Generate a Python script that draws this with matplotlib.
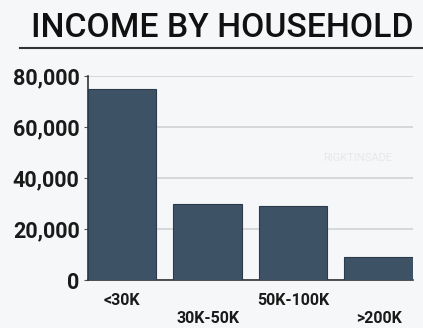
import matplotlib.pyplot as plt
from matplotlib.lines import Line2D

categories = ["<30K", "30K-50K", "50K-100K", ">200K"]
households = [74800, 29800, 29000, 9000]
yticks = [0, 20000, 40000, 60000, 80000]

bar_color = "#3e5266"
bg = "#f5f7f8"
font = ["Roboto", "DejaVu Sans"]

fig = plt.figure(figsize=(4.23, 3.28), dpi=100)
fig.patch.set_facecolor(bg)

fig.text(0.525, 0.915, "INCOME BY HOUSEHOLD", ha="center", va="center",
         fontsize=24.3, family=font, weight="medium", color="#111111")
fig.add_artist(Line2D([0.047, 1.0], [0.854, 0.854], color="#333333", lw=1.5))

ax = fig.add_axes([0.208, 0.146, 0.768, 0.622])
ax.set_facecolor(bg)
x = range(len(categories))
ax.bar(x, households, width=0.8, color=bar_color, edgecolor="#2c3b49", lw=0.8, zorder=3)

ax.set_xlim(-0.4, 3.4)
ax.set_ylim(0, 80000)
ax.set_yticks(yticks)
ax.set_yticklabels([f"{v:,}" for v in yticks], family=font, fontsize=15.5,
                   weight="bold", color="#1a1a1a")
ax.grid(axis="y", color="#cfd3d6", lw=1.2, zorder=0)
ax.tick_params(axis="y", length=3, color="#555555", pad=3)
ax.tick_params(axis="x", length=0)
ax.set_xticks([])
for s in ["top", "right"]:
    ax.spines[s].set_visible(False)
ax.spines["left"].set_color("#333333")
ax.spines["bottom"].set_color("#333333")
ax.spines["left"].set_linewidth(1.2)
ax.spines["bottom"].set_linewidth(1.2)

for i, c in enumerate(categories):
    y = -0.065 if i % 2 == 0 else -0.15
    ax.text(i, y, c, transform=ax.get_xaxis_transform(), ha="center", va="top",
            family=font, fontsize=11.5, weight="bold", color="#1a1a1a")

ax.text(0.83, 0.6, "RIGKTINSADE", transform=ax.transAxes, ha="center",
        va="center", fontsize=8, color="#e6e9eb", family=font, zorder=1)

fig.savefig("out.png", dpi=100, facecolor=bg)
